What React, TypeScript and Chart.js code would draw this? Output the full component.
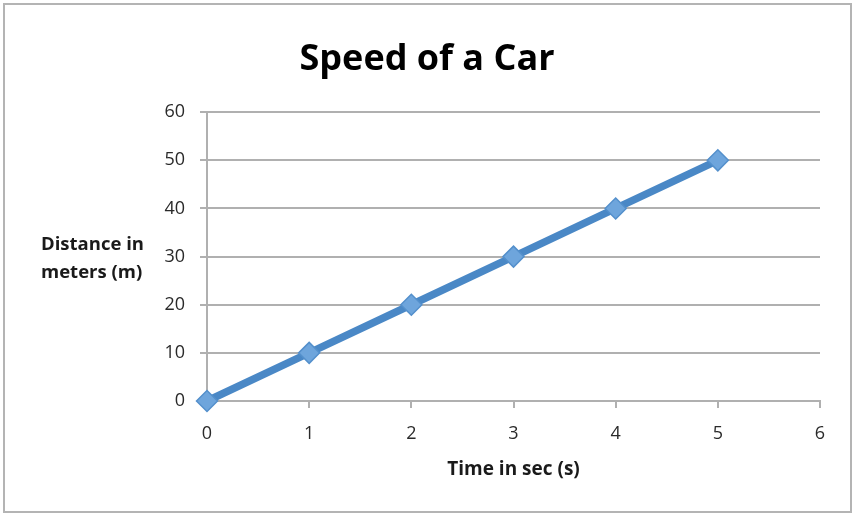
import React, { useEffect, useRef } from "react";
import { Chart, registerables } from "chart.js";

Chart.register(...registerables);

const timeSec = [0, 1, 2, 3, 4, 5];
const distanceM = [0, 10, 20, 30, 40, 50];
const chartTitle = "Speed of a Car";
const xTitle = "Time in sec (s)";
const yTitleLines = ["Distance in", "meters (m)"];

const FONT = "'Open Sans', 'DejaVu Sans', sans-serif";

const decorPlugin = {
  id: "decor",
  afterDraw(chart: any) {
    const { ctx, chartArea } = chart;
    ctx.save();
    // outer frame
    ctx.strokeStyle = "#b4b4b4";
    ctx.lineWidth = 2;
    ctx.strokeRect(4, 4, 847, 508);
    // axis titles
    ctx.fillStyle = "#1a1a1a";
    ctx.font = `bold 19px ${FONT}`;
    ctx.textAlign = "center";
    ctx.textBaseline = "middle";
    ctx.fillText(xTitle, (chartArea.left + chartArea.right) / 2, 470);
    ctx.font = `bold 18.5px ${FONT}`;
    ctx.textAlign = "left";
    ctx.fillText(yTitleLines[0], 41, 245);
    ctx.fillText(yTitleLines[1], 41, 273);
    ctx.restore();
  },
};

export default function App() {
  const ref = useRef<HTMLCanvasElement | null>(null);
  useEffect(() => {
    document.body.style.margin = "0";
    const canvas = ref.current!;
    const chart = new Chart(canvas, {
      type: "scatter",
      data: {
        datasets: [
          {
            data: timeSec.map((t, i) => ({ x: t, y: distanceM[i] })),
            showLine: true,
            clip: false,
            borderColor: "#4a88c6",
            borderWidth: 7.5,
            pointStyle: "rectRot",
            pointRadius: 10.5,
            pointHoverRadius: 10.5,
            pointBackgroundColor: "#6ea5dc",
            pointBorderColor: "#5490cc",
            pointBorderWidth: 1.5,
          },
        ],
      },
      options: {
        responsive: false,
        animation: false,
        layout: { padding: { top: 0, right: 34, bottom: 0, left: 34 } },
        plugins: {
          legend: { display: false },
          tooltip: { enabled: false },
          title: {
            display: true,
            text: chartTitle,
            color: "#000",
            font: { family: FONT, size: 36, weight: "bold" },
            padding: { top: 38, bottom: 31 },
          },
        },
        scales: {
          x: {
            type: "linear",
            min: 0,
            max: 6,
            ticks: {
              stepSize: 1,
              color: "#2a2a2a",
              font: { family: FONT, size: 18 },
              padding: 15,
            },
            grid: {
              drawOnChartArea: false,
              drawTicks: true,
              tickLength: 7,
              color: "#b0b0b0",
              lineWidth: 2,
            },
            border: { display: true, color: "#b0b0b0", width: 2 },
            afterFit(scale: any) {
              scale.height = 114;
            },
          },
          y: {
            min: 0,
            max: 60,
            ticks: {
              stepSize: 10,
              color: "#2a2a2a",
              font: { family: FONT, size: 18 },
              padding: 15,
            },
            grid: {
              drawTicks: true,
              tickLength: 7,
              color: "#b0b0b0",
              lineWidth: 2,
            },
            border: { display: true, color: "#b0b0b0", width: 2 },
            afterFit(scale: any) {
              scale.width = 173;
            },
          },
        },
      },
      plugins: [decorPlugin],
    });
    return () => chart.destroy();
  }, []);
  return (
    <div style={{ width: 854, height: 515, background: "#fff" }}>
      <canvas ref={ref} width={854} height={515} />
    </div>
  );
}
